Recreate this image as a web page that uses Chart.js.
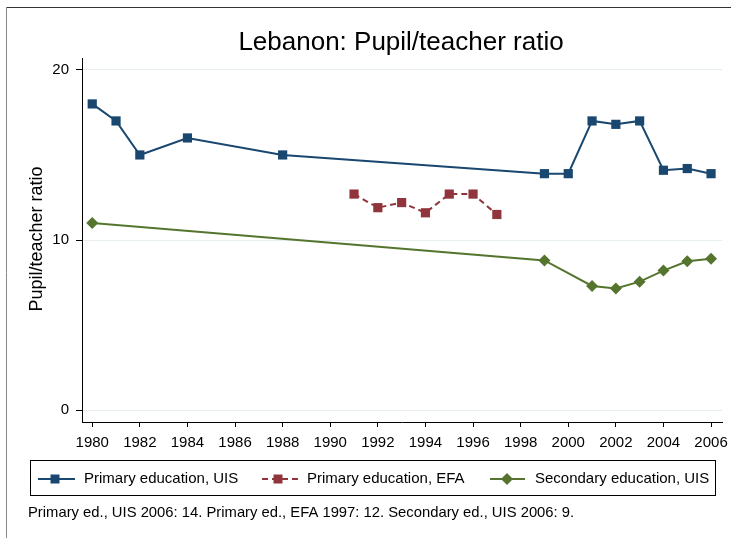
<!DOCTYPE html>
<html>
<head>
<meta charset="utf-8">
<script src="https://cdn.jsdelivr.net/npm/chart.js@4.4.1/dist/chart.umd.min.js"></script>
<style>
  html, body { margin: 0; padding: 0; background: #fff; }
  #wrap { position: relative; width: 731px; height: 538px; }
</style>
</head>
<body>
<div id="wrap"><canvas id="chart" width="731" height="538"></canvas></div>
<script>
// values
const yearsPrimaryUIS = [1980, 1981, 1982, 1984, 1988, 1999, 2000, 2001, 2002, 2003, 2004, 2005, 2006];
const primaryUIS      = [18, 17, 15, 16, 15, 13.9, 13.9, 17, 16.8, 17, 14.1, 14.2, 13.9];

const yearsPrimaryEFA = [1991, 1992, 1993, 1994, 1995, 1996, 1997];
const primaryEFA      = [12.7, 11.9, 12.2, 11.6, 12.7, 12.7, 11.5];

const yearsSecondary  = [1980, 1999, 2001, 2002, 2003, 2004, 2005, 2006];
const secondaryUIS    = [11, 8.8, 7.3, 7.15, 7.55, 8.2, 8.75, 8.9];

const xTicks = [1980, 1982, 1984, 1986, 1988, 1990, 1992, 1994, 1996, 1998, 2000, 2002, 2004, 2006];
const yTicks = [0, 10, 20];

const seriesNames = ["Primary education, UIS", "Primary education, EFA", "Secondary education, UIS"];
const footnote = "Primary ed., UIS 2006: 14. Primary ed., EFA 1997: 12. Secondary ed., UIS 2006: 9.";

const BLUE = "#1a476f";
const RED = "#90353b";
const GREEN = "#55752f";
const FONT = '"Liberation Sans", Arial, sans-serif';

function pts(xs, ys) {
    return xs.map((x, i) => ({ x: x, y: ys[i] }));
}

// frame, titles, legend box and note
const decor = {
    id: "decor",
    afterDraw(chart) {
        const c = chart.ctx;
        c.save();

        // outer frame (top + left)
        c.strokeStyle = "#333";
        c.lineWidth = 1.2;
        c.beginPath();
        c.moveTo(6, 7.5);
        c.lineTo(731, 7.5);
        c.stroke();
        c.strokeStyle = "#888";
        c.lineWidth = 1;
        c.beginPath();
        c.moveTo(6.5, 7);
        c.lineTo(6.5, 538);
        c.stroke();

        c.fillStyle = "#000";
        c.textBaseline = "middle";

        // title
        c.font = "26px " + FONT;
        c.textAlign = "center";
        c.fillText("Lebanon: Pupil/teacher ratio", 401, 43);

        // y title
        c.save();
        c.translate(37, 239);
        c.rotate(-Math.PI / 2);
        c.font = "18px " + FONT;
        c.fillText("Pupil/teacher ratio", 0, 0);
        c.restore();

        // legend
        c.strokeStyle = "#000";
        c.lineWidth = 1;
        c.strokeRect(30.5, 460.5, 685, 35);

        const items = [
            { x0: 38, x1: 75, mx: 55, tx: 84, color: BLUE, dash: [], shape: "rect" },
            { x0: 262, x1: 298, mx: 278, tx: 307, color: RED, dash: [6, 4], shape: "rect" },
            { x0: 490, x1: 525, mx: 507, tx: 535, color: GREEN, dash: [], shape: "diamond" }
        ];
        const ly = 479;
        c.font = "15px " + FONT;
        c.textAlign = "left";
        items.forEach((it, i) => {
            c.strokeStyle = it.color;
            c.lineWidth = 2;
            c.setLineDash(it.dash);
            c.beginPath();
            c.moveTo(it.x0, ly);
            c.lineTo(it.x1, ly);
            c.stroke();
            c.setLineDash([]);
            c.fillStyle = it.color;
            c.beginPath();
            if (it.shape === "rect") {
                c.rect(it.mx - 4.5, ly - 4.5, 9, 9);
            } else {
                c.moveTo(it.mx, ly - 6);
                c.lineTo(it.mx + 6, ly);
                c.lineTo(it.mx, ly + 6);
                c.lineTo(it.mx - 6, ly);
                c.closePath();
            }
            c.fill();
            c.fillStyle = "#000";
            c.fillText(seriesNames[i], it.tx, ly);
        });

        // note
        c.font = "14.8px " + FONT;
        c.fillText(footnote, 28, 513);

        c.restore();
    }
};

const tickFont = { family: FONT, size: 15 };

new Chart(document.getElementById("chart"), {
    type: "line",
    data: {
        datasets: [
            {
                label: seriesNames[0],
                data: pts(yearsPrimaryUIS, primaryUIS),
                borderColor: BLUE,
                backgroundColor: BLUE,
                borderWidth: 2,
                pointStyle: "rect",
                pointRadius: 6.5,
                pointBorderWidth: 0,
                tension: 0
            },
            {
                label: seriesNames[1],
                data: pts(yearsPrimaryEFA, primaryEFA),
                borderColor: RED,
                backgroundColor: RED,
                borderWidth: 2,
                borderDash: [6, 4],
                pointStyle: "rect",
                pointRadius: 6.5,
                pointBorderWidth: 0,
                tension: 0
            },
            {
                label: seriesNames[2],
                data: pts(yearsSecondary, secondaryUIS),
                borderColor: GREEN,
                backgroundColor: GREEN,
                borderWidth: 2,
                pointStyle: "rectRot",
                pointRadius: 6,
                pointBorderWidth: 0,
                tension: 0
            }
        ]
    },
    options: {
        responsive: false,
        animation: false,
        layout: { padding: { left: 0, top: 58, right: 9, bottom: 86 } },
        plugins: {
            legend: { display: false },
            title: { display: false },
            tooltip: { enabled: false }
        },
        scales: {
            x: {
                type: "linear",
                min: 1979.57,
                max: 2006.46,
                afterBuildTicks: s => { s.ticks = xTicks.map(v => ({ value: v })); },
                afterFit: s => {
                    s.height = 30;
                    s.paddingLeft = 0;
                    s.paddingRight = 0;
                },
                grid: { drawOnChartArea: false, tickLength: 5, tickColor: "#000", lineWidth: 1 },
                border: { display: true, color: "#000", width: 1 },
                ticks: {
                    font: tickFont,
                    color: "#000",
                    padding: 7,
                    maxRotation: 0,
                    autoSkip: false,
                    callback: v => String(v)
                }
            },
            y: {
                min: -0.7,
                max: 20.7,
                afterBuildTicks: s => { s.ticks = yTicks.map(v => ({ value: v })); },
                afterFit: s => {
                    s.width = 82;
                    s.paddingTop = 0;
                    s.paddingBottom = 0;
                },
                grid: { color: "#e6eef2", tickLength: 6, tickColor: "#000", lineWidth: 1 },
                border: { display: true, color: "#000", width: 1 },
                ticks: {
                    font: tickFont,
                    color: "#000",
                    padding: 7,
                    callback: v => String(v)
                }
            }
        }
    },
    plugins: [decor]
});
</script>
</body>
</html>
